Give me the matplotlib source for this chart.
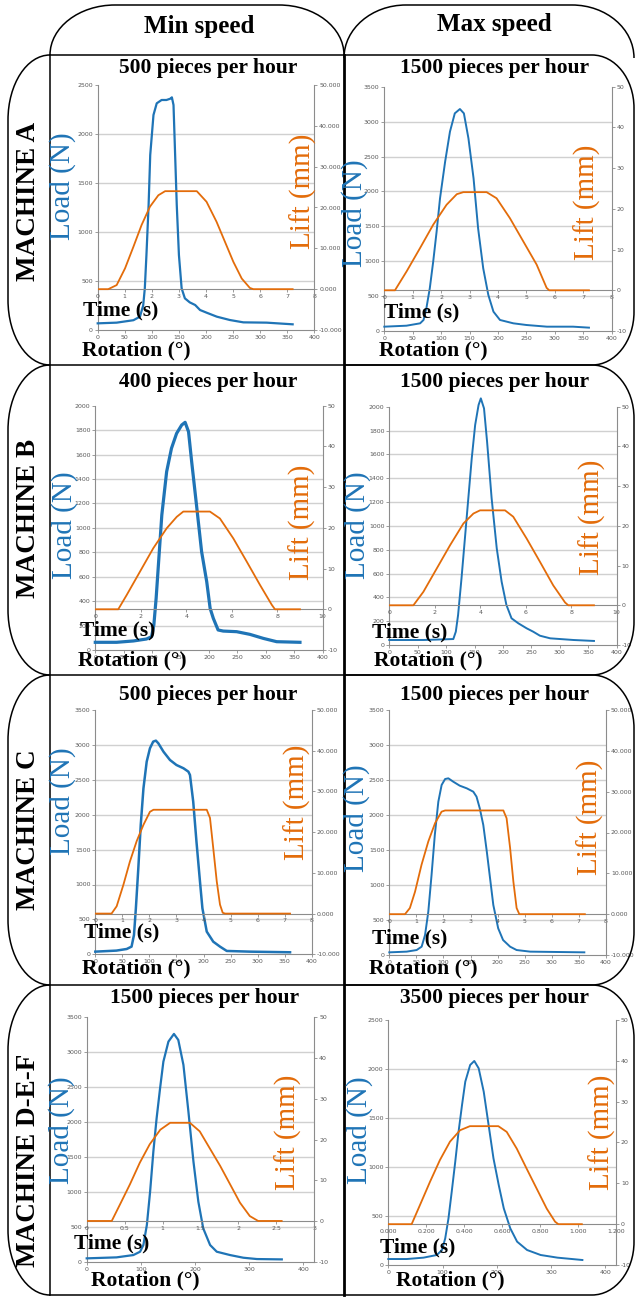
import numpy as np
import matplotlib.pyplot as plt
from matplotlib.path import Path
from matplotlib.patches import PathPatch
from matplotlib.ticker import MultipleLocator, FormatStrFormatter

W, H = 636, 1297
BLUE = '#1f74b6'
ORANGE = '#e36c0a'
GRAY = '#8c8c8c'
TICK = '#595959'
SERIF = 'Liberation Serif'

# ---- data: load (N) vs rotation (deg), lift (mm) vs time (s)
a_min_rot = [0, 35, 66, 78, 84, 87, 90, 94, 97, 103, 109, 118, 127, 134, 137, 140, 143, 146, 150, 155, 161, 170, 180, 189, 201, 220, 244, 269, 312, 360]
a_min_load = [68, 75, 100, 136, 250, 425, 765, 1275, 1786, 2194, 2313, 2347, 2347, 2360, 2374, 2296, 1786, 1275, 765, 425, 323, 282, 255, 204, 177, 136, 102, 78, 75, 58]
a_min_t = [0, 0.39, 0.70, 1.01, 1.32, 1.62, 1.93, 2.24, 2.49, 3.66, 4.02, 4.39, 4.70, 5.01, 5.32, 5.62, 5.75, 7.2]
a_min_lift = [0, 0, 1.0, 5.1, 10.4, 15.7, 20.2, 23.0, 24.0, 24.0, 21.4, 16.5, 11.6, 6.7, 2.6, 0.3, 0, 0]

a_max_rot = [0, 39, 63, 69, 74, 80, 86, 92, 98, 107, 115.5, 124, 133, 140, 148, 157, 165, 174, 183, 192, 203.5, 227, 250, 286, 332, 360]
a_max_load = [62, 76, 110, 158, 325, 611, 993, 1423, 1900, 2426, 2856, 3118, 3180, 3118, 2760, 2187, 1471, 898, 516, 277, 158, 110, 86, 62, 62, 48]
a_max_t = [0, 0.375, 0.79, 1.26, 1.72, 2.19, 2.55, 2.78, 3.6, 3.95, 4.42, 4.89, 5.36, 5.71, 5.8, 7.2]
a_max_lift = [0, 0, 4.7, 10.4, 16.1, 21.0, 23.6, 24.1, 24.1, 22.6, 17.7, 12.0, 6.3, 0.6, 0, 0]

b_min_rot = [0, 37.5, 67, 90, 99, 103, 107, 111, 117, 125.5, 134, 143, 152, 158, 164, 169.5, 178, 187, 196, 202, 207.6, 216, 225, 248.6, 272, 295.6, 319, 360]
b_min_load = [63, 63, 74, 90, 109, 205, 423, 696, 1105, 1460, 1651, 1773, 1842, 1864, 1787, 1542, 1187, 805, 559, 341, 259, 164, 155, 150, 128, 95, 68, 63]
b_min_t = [0, 1.01, 1.38, 1.96, 2.55, 3.14, 3.58, 3.87, 5.04, 5.48, 6.07, 6.66, 7.24, 7.76, 7.9, 9.0]
b_min_lift = [0, 0, 3.5, 9.2, 15.0, 19.9, 22.7, 24.0, 24.0, 22.3, 17.4, 11.7, 6.0, 1.1, 0, 0]

b_max_rot = [0, 60, 112.6, 117, 121, 127, 133, 139, 145, 151, 157, 161, 166.6, 172, 180, 189, 197.6, 206, 215, 227, 241.6, 253, 265, 283, 324, 360]
b_max_load = [42, 42, 50, 112, 252, 559, 895, 1231, 1566, 1846, 2014, 2070, 1986, 1706, 1231, 811, 531, 336, 224, 182, 140, 112, 78, 56, 42, 34]
b_max_t = [0, 1.06, 1.5, 2.08, 2.67, 3.26, 3.7, 3.99, 5.09, 5.45, 6.04, 6.63, 7.21, 7.73, 7.87, 9.0]
b_max_lift = [0, 0, 3.4, 9.2, 15.1, 20.6, 23.1, 23.9, 23.9, 22.3, 16.8, 10.9, 5.0, 0.7, 0, 0]

c_min_rot = [0, 39, 58, 67, 71.5, 75, 79.5, 84, 89, 95, 101, 107, 112, 116.5, 126, 138, 150, 163, 172, 175, 181, 187, 193.5, 198, 206, 218, 230.5, 243, 286, 360]
c_min_load = [38, 53, 76, 110, 277, 659, 1232, 1853, 2378, 2760, 2951, 3047, 3061, 3023, 2903, 2784, 2712, 2665, 2617, 2569, 2187, 1614, 1041, 659, 325, 181, 110, 48, 38, 29]
c_min_t = [0, 0.6, 0.79, 1.04, 1.28, 1.53, 1.78, 2.02, 2.15, 4.12, 4.24, 4.36, 4.49, 4.61, 4.71, 4.8, 7.2]
c_min_lift = [0, 0, 1.8, 7.1, 12.8, 17.8, 21.8, 25.0, 25.5, 25.5, 23.5, 16.1, 7.9, 2.2, 0.2, 0, 0]

c_max_rot = [0, 32, 50.5, 59.7, 66, 72, 78, 84, 90.5, 96.6, 103, 109, 118, 130, 143, 155, 161, 167, 173.5, 180, 186, 192, 201, 210, 223, 235, 260, 360]
c_max_load = [38, 48, 71, 119, 286, 619, 1143, 1714, 2190, 2429, 2514, 2524, 2476, 2419, 2381, 2333, 2262, 2095, 1857, 1476, 1095, 714, 381, 214, 119, 71, 48, 38]
c_max_t = [0, 0.58, 0.76, 0.95, 1.19, 1.44, 1.69, 1.93, 2.06, 4.21, 4.33, 4.46, 4.58, 4.70, 4.8, 7.22]
c_max_lift = [0, 0, 1.5, 5.5, 12.1, 17.8, 22.3, 25.1, 25.4, 25.4, 23.5, 16.2, 8.0, 1.5, 0, 0]

d_min_rot = [0, 55, 86, 98.5, 104.6, 111, 117, 123, 129, 135.4, 141.5, 150.8, 161, 169, 178.5, 187.7, 197, 206, 215, 227.7, 240, 264.6, 289, 314, 360]
d_min_load = [48, 62, 95, 143, 239, 525, 1003, 1576, 2053, 2483, 2865, 3152, 3262, 3176, 2818, 2149, 1433, 860, 478, 239, 143, 95, 57, 38, 33]
d_min_t = [0, 0.33, 0.44, 0.57, 0.70, 0.83, 0.97, 1.10, 1.36, 1.49, 1.62, 1.76, 1.89, 2.02, 2.15, 2.26, 2.57]
d_min_lift = [0, 0, 4.1, 9.0, 14.3, 18.8, 22.4, 24.1, 24.1, 22.0, 17.9, 13.5, 9.0, 4.5, 1.2, 0, 0]

d_max_rot = [0, 34, 65, 89.5, 99, 105, 111, 117, 123.5, 129.6, 136, 142, 151, 158.6, 166.7, 176, 185, 194, 203.7, 213, 225, 237.6, 256, 281, 312, 358]
d_max_load = [61, 61, 75, 102, 153, 272, 476, 748, 1054, 1360, 1633, 1871, 2041, 2082, 2007, 1769, 1429, 1088, 816, 578, 374, 238, 153, 102, 75, 51]
d_max_t = [0, 0.123, 0.167, 0.22, 0.272, 0.325, 0.378, 0.43, 0.58, 0.624, 0.677, 0.729, 0.782, 0.835, 0.879, 0.896, 1.02]
d_max_lift = [0, 0, 4.7, 10.4, 15.7, 20.2, 23.0, 24.0, 24.0, 22.6, 18.5, 13.6, 8.7, 3.8, 0.6, 0, 0]

col_titles = ['Min speed', 'Max speed']
row_titles = ['MACHINE A', 'MACHINE B', 'MACHINE C', 'MACHINE D-E-F']
rates = ['500 pieces per hour', '1500 pieces per hour', '400 pieces per hour', '1500 pieces per hour',
         '500 pieces per hour', '1500 pieces per hour', '1500 pieces per hour', '3500 pieces per hour']

# ---- layout (pixels)
panels = [
    dict(rot=a_min_rot, load=a_min_load, t=a_min_t, lift=a_min_lift, box=(97.7, 85, 314.3, 330),
         ymax=2500, ystep=500, xmax=400, xstep=50, tmax=8, tstep=1, tfmt='%d', lfmt='%.3f', lw=1.6,
         title=(208, 68), loadl=(63, 186), liftl=(303, 191), timel=(121, 310), rotl=(136, 350)),
    dict(rot=a_max_rot, load=a_max_load, t=a_max_t, lift=a_max_lift, box=(384.3, 86.7, 611.7, 331),
         ymax=3500, ystep=500, xmax=400, xstep=50, tmax=8, tstep=1, tfmt='%d', lfmt='%d', lw=1.4,
         title=(495, 68), loadl=(355, 213), liftl=(587, 202), timel=(422, 312), rotl=(433, 350)),
    dict(rot=b_min_rot, load=b_min_load, t=b_min_t, lift=b_min_lift, box=(95.3, 405.7, 322.7, 650),
         ymax=2000, ystep=200, xmax=400, xstep=50, tmax=10, tstep=2, tfmt='%d', lfmt='%d', lw=2.3,
         title=(208, 382), loadl=(65, 525), liftl=(302, 522), timel=(118, 630), rotl=(132, 660)),
    dict(rot=b_max_rot, load=b_max_load, t=b_max_t, lift=b_max_lift, box=(389.3, 406.7, 616.7, 645),
         ymax=2000, ystep=200, xmax=400, xstep=50, tmax=10, tstep=2, tfmt='%d', lfmt='%d', lw=1.4,
         title=(495, 382), loadl=(358, 525), liftl=(592, 517), timel=(410, 632), rotl=(428, 660)),
    dict(rot=c_min_rot, load=c_min_load, t=c_min_t, lift=c_min_lift, box=(95.3, 710, 311.7, 954.3),
         ymax=3500, ystep=500, xmax=400, xstep=50, tmax=8, tstep=1, tfmt='%d', lfmt='%.3f', lw=1.8,
         title=(208, 695), loadl=(63, 801), liftl=(297, 802), timel=(122, 932), rotl=(136, 968)),
    dict(rot=c_max_rot, load=c_max_load, t=c_max_t, lift=c_max_lift, box=(389.3, 710, 606, 955),
         ymax=3500, ystep=500, xmax=400, xstep=50, tmax=8, tstep=1, tfmt='%d', lfmt='%.3f', lw=1.4,
         title=(495, 695), loadl=(357, 818), liftl=(590, 817), timel=(410, 938), rotl=(423, 968)),
    dict(rot=d_min_rot, load=d_min_load, t=d_min_t, lift=d_min_lift, box=(86.7, 1017.3, 314.3, 1261.7),
         ymax=3500, ystep=500, xmax=420, xstep=100, tmax=3, tstep=0.5, tfmt='%g', lfmt='%d', lw=1.6,
         title=(205, 998), loadl=(62, 1130), liftl=(288, 1132), timel=(112, 1243), rotl=(145, 1280)),
    dict(rot=d_max_rot, load=d_max_load, t=d_max_t, lift=d_max_lift, box=(388.3, 1020, 616, 1265),
         ymax=2500, ystep=500, xmax=420, xstep=100, tmax=1.2, tstep=0.2, tfmt='%.3f', lfmt='%d', lw=1.4,
         title=(495, 998), loadl=(360, 1130), liftl=(602, 1132), timel=(418, 1247), rotl=(450, 1280)),
]

fig = plt.figure(figsize=(W / 100, H / 100), dpi=100)


def rect(l, t, r, b):
    return [l / W, 1 - b / H, (r - l) / W, (b - t) / H]


def draw_panel(p):
    ax = fig.add_axes(rect(*p['box']))
    ax.patch.set_visible(False)
    for v in np.arange(p['ystep'], p['ymax'], p['ystep']):
        ax.axhline(v, color='#d0d0d0', lw=1, zorder=1)
    # the peak of one trace runs past the top of its plot area in the original
    ax.plot(p['rot'], p['load'], color=BLUE, lw=p['lw'], zorder=3, clip_on=False)
    ax.set_xlim(0, p['xmax'])
    ax.set_ylim(0, p['ymax'])
    ax.xaxis.set_major_locator(MultipleLocator(p['xstep']))
    ax.yaxis.set_major_locator(MultipleLocator(p['ystep']))
    for s in ['top', 'right']:
        ax.spines[s].set_visible(False)
    for s in ['left', 'bottom']:
        ax.spines[s].set_color(GRAY)
        ax.spines[s].set_linewidth(0.8)
    ax.tick_params(labelsize=4.5, labelcolor=TICK, color=GRAY, length=2, width=0.6, pad=1.5)

    ax2 = fig.add_axes(rect(*p['box']))
    ax2.patch.set_visible(False)
    ax2.plot(p['t'], p['lift'], color=ORANGE, lw=1.3, zorder=3)
    ax2.set_xlim(0, p['tmax'])
    ax2.set_ylim(-10, 50)
    ax2.yaxis.tick_right()
    ax2.xaxis.set_major_locator(MultipleLocator(p['tstep']))
    ax2.yaxis.set_major_locator(MultipleLocator(10))
    ax2.xaxis.set_major_formatter(FormatStrFormatter(p['tfmt']))
    ax2.yaxis.set_major_formatter(FormatStrFormatter(p['lfmt']))
    ax2.spines['bottom'].set_position(('data', 0))
    for s in ['top', 'left']:
        ax2.spines[s].set_visible(False)
    for s in ['right', 'bottom']:
        ax2.spines[s].set_color(GRAY)
        ax2.spines[s].set_linewidth(0.8)
    ax2.tick_params(labelsize=4.5, labelcolor=TICK, color=GRAY, length=2, width=0.6, pad=1.5)


for p in panels:
    draw_panel(p)

# ---- overlay: frames and big labels
ov = fig.add_axes([0, 0, 1, 1], zorder=10)
ov.set_xlim(0, W)
ov.set_ylim(H, 0)
ov.axis('off')
ov.patch.set_visible(False)

K = 0.5523
M, C, L = Path.MOVETO, Path.CURVE4, Path.LINETO
frame = dict(fill=False, edgecolor='black', lw=1.1, clip_on=False)


def header_tab(x0, x1, yt, yb, rx):
    ry = yb - yt
    verts = [(x0, yb), (x0, yb - K * ry), (x0 + rx * (1 - K), yt), (x0 + rx, yt),
             (x1 - rx, yt), (x1 - rx * (1 - K), yt), (x1, yb - K * ry), (x1, yb)]
    ov.add_patch(PathPatch(Path(verts, [M, C, C, C, L, C, C, C]), **frame))


def row_tab(yt, yb, xl=8, xr=50, ry=65):
    rx = xr - xl
    verts = [(xr, yt), (xr - K * rx, yt), (xl, yt + ry * (1 - K)), (xl, yt + ry),
             (xl, yb - ry), (xl, yb - ry * (1 - K)), (xr - K * rx, yb), (xr, yb)]
    ov.add_patch(PathPatch(Path(verts, [M, C, C, C, L, C, C, C]), **frame))


def right_cell(yt, yb, x0=344, xr=634, rx=42, ry=53):
    verts = [(x0, yt), (xr - rx, yt), (xr - rx + K * rx, yt), (xr, yt + ry - K * ry), (xr, yt + ry),
             (xr, yb - ry), (xr, yb - ry + K * ry), (xr - rx + K * rx, yb), (xr - rx, yb), (x0, yb)]
    ov.add_patch(PathPatch(Path(verts, [M, L, C, C, C, L, C, C, C, L]), **frame))


header_tab(50, 344, 5, 55, 65)
header_tab(344, 634, 5, 58, 62)
rows = [(55, 365), (365, 675), (675, 985), (985, 1295)]
for yt, yb in rows:
    row_tab(yt, yb)
    right_cell(yt, yb)
    ov.plot([50, 344], [yt, yt], color='black', lw=1.1, clip_on=False)
ov.plot([50, 344], [1295, 1295], color='black', lw=1.1, clip_on=False)
ov.plot([50, 50], [55, 1295], color='black', lw=1.1, clip_on=False)
ov.plot([344, 344], [55, 1295], color='black', lw=2.0, clip_on=False)

ov.text(199, 27, col_titles[0], family=SERIF, weight='bold', size=18, ha='center', va='center')
ov.text(494, 24, col_titles[1], family=SERIF, weight='bold', size=18, ha='center', va='center')
for name, yc in zip(row_titles, [201, 518, 830, 1160]):
    ov.text(29, yc, name, family=SERIF, weight='bold', size=19.5, rotation=90, ha='center', va='center')

for p, rate in zip(panels, rates):
    ov.text(*p['title'], rate, family=SERIF, weight='bold', size=15.5, ha='center', va='center')
    ov.text(*p['loadl'], 'Load (N)', family=SERIF, size=21, color=BLUE, rotation=90, ha='center', va='center')
    ov.text(*p['liftl'], 'Lift (mm)', family=SERIF, size=21, color=ORANGE, rotation=90, ha='center', va='center')
    ov.text(*p['timel'], 'Time (s)', family=SERIF, weight='bold', size=15.5, ha='center', va='center')
    ov.text(*p['rotl'], 'Rotation (°)', family=SERIF, weight='bold', size=15.5, ha='center', va='center')

fig.savefig('out.png', dpi=100)
